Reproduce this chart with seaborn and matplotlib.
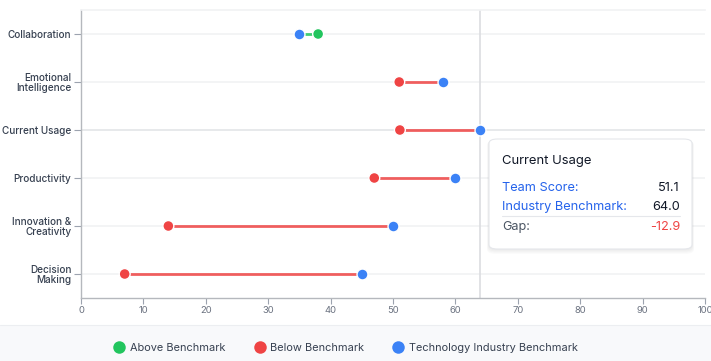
"""
Dumbbell chart: team skill scores vs. technology industry benchmark.
Saves out.png (711x361).
"""

import numpy as np
import pandas as pd
import matplotlib
matplotlib.use("Agg")
import matplotlib.pyplot as plt
from matplotlib.patches import FancyBboxPatch, Rectangle
from matplotlib.lines import Line2D
import seaborn as sns

CATEGORIES = ["Collaboration", "Emotional\nIntelligence", "Current Usage",
              "Productivity", "Innovation &\nCreativity", "Decision\nMaking"]
TEAM_SCORES = [38.0, 51.0, 51.1, 47.0, 14.0, 7.0]
BENCHMARKS = [35.0, 58.0, 64.0, 60.0, 50.0, 45.0]
HOVER_INDEX = 2

GREEN = "#22c55e"
RED = "#ef4444"
BLUE = "#3b82f6"
W, H = 711, 361


def setup():
    sns.set_theme(style="white")
    plt.rcParams["font.family"] = ["Inter", "DejaVu Sans"]


def main():
    setup()
    df = pd.DataFrame({"category": CATEGORIES, "team": TEAM_SCORES, "bench": BENCHMARKS})
    df["pos"] = np.arange(len(df))
    df["above"] = df["team"] >= df["bench"]
    df["color"] = np.where(df["above"], GREEN, RED)

    fig = plt.figure(figsize=(W / 100, H / 100), dpi=100)
    ax = fig.add_axes([81 / W, 1 - 298 / H, 624 / W, 288 / H])

    # light gridlines per category, the hovered one a bit darker
    for i in df["pos"]:
        ax.axhline(i, color="#e3e5e8" if i == HOVER_INDEX else "#f1f2f4", lw=1.2, zorder=0)

    # hover crosshair at the hovered benchmark
    ax.axvline(df.loc[HOVER_INDEX, "bench"], color="#dcdde0", lw=1.2, zorder=0.5)

    # connecting segments
    ax.hlines(df["pos"], df["team"], df["bench"], colors=df["color"], lw=2.0,
              alpha=0.85, zorder=1)

    sns.scatterplot(x=df["bench"], y=df["pos"], color=BLUE, s=62, edgecolor="white",
                    linewidth=1.0, zorder=3, ax=ax, legend=False)
    sns.scatterplot(x=df["team"], y=df["pos"], c=df["color"], s=62, edgecolor="white",
                    linewidth=1.0, zorder=3, ax=ax, legend=False)

    ax.set_xlim(0, 100)
    ax.set_ylim(len(df) - 0.5, -0.5)
    ax.set_xticks(range(0, 101, 10))
    ax.set_yticks(df["pos"])
    ax.set_yticklabels(df["category"], fontsize=7.2, color="#374151", linespacing=1.05,
                       fontweight="medium")
    ax.tick_params(axis="x", labelsize=6.8, colors="#9ca3af", labelcolor="#6b7280",
                   length=4, width=0.8, pad=2, bottom=True)
    ax.tick_params(axis="y", length=5, width=0.8, colors="#9ca3af", labelcolor="#374151",
                   pad=2, left=True)
    ax.set_xlabel("")
    ax.set_ylabel("")
    for side in ["left", "bottom"]:
        ax.spines[side].set_color("#b5b8bd")
        ax.spines[side].set_linewidth(1.0)
    ax.spines["right"].set_visible(False)
    ax.spines["top"].set_color("#f1f2f4")
    ax.spines["top"].set_linewidth(1.2)

    # legend band
    fig.patches.append(Rectangle((0, 0), 1, 36 / H, transform=fig.transFigure,
                                 facecolor="#f8f9fb", edgecolor="none", zorder=0))
    fig.add_artist(Line2D([0, 1], [36 / H, 36 / H], transform=fig.transFigure,
                          color="#eceef1", lw=0.8))
    handles = [Line2D([], [], marker="o", ls="", color=c, markersize=9, markeredgewidth=0)
               for c in (GREEN, RED, BLUE)]
    fig.legend(handles, ["Above Benchmark", "Below Benchmark", "Technology Industry Benchmark"],
               loc="center", bbox_to_anchor=(346 / W, 1 - 348 / H), ncol=3, frameon=False,
               fontsize=7.9, labelcolor="#374151", handletextpad=0.5, columnspacing=2.6,
               handlelength=1.0)

    # tooltip for the hovered category
    x0, y0, bw, bh = 489 / W, 1 - 249 / H, 203 / W, 110 / H
    for k in range(4, 0, -1):
        fig.patches.append(FancyBboxPatch(
            (x0 - k / W * 0.5, y0 - k / H * 1.2), bw + k / W, bh + k / H * 0.8,
            boxstyle="round,pad=0,rounding_size=0.012", transform=fig.transFigure,
            facecolor="black", edgecolor="none", alpha=0.018, zorder=5))
    fig.patches.append(FancyBboxPatch(
        (x0, y0), bw, bh, boxstyle="round,pad=0,rounding_size=0.012",
        transform=fig.transFigure, facecolor="white", edgecolor="#e5e7eb", lw=0.8, zorder=6))

    row = df.loc[HOVER_INDEX]
    gap = row["team"] - row["bench"]
    lx, rx = 502 / W, 680 / W
    fs = 9.2
    fig.text(lx, 1 - 161 / H, row["category"], fontsize=9.4, color="#111827",
             va="center", zorder=7)
    fig.text(lx, 1 - 188 / H, "Team Score:", fontsize=fs, color="#2563eb", va="center", zorder=7)
    fig.text(rx, 1 - 188 / H, f"{row['team']:.1f}", fontsize=fs, color="#111827",
             va="center", ha="right", zorder=7)
    fig.text(lx, 1 - 207 / H, "Industry Benchmark:", fontsize=fs, color="#2563eb",
             va="center", zorder=7)
    fig.text(rx, 1 - 207 / H, f"{row['bench']:.1f}", fontsize=fs, color="#111827",
             va="center", ha="right", zorder=7)
    fig.add_artist(Line2D([lx, rx], [1 - 216 / H, 1 - 216 / H], transform=fig.transFigure,
                          color="#e5e7eb", lw=0.8, zorder=7))
    fig.text(lx, 1 - 227 / H, "Gap:", fontsize=fs, color="#4b5563", va="center", zorder=7)
    fig.text(rx, 1 - 227 / H, f"{gap:.1f}", fontsize=fs,
             color=GREEN if gap >= 0 else RED, va="center", ha="right", zorder=7)

    fig.savefig("out.png", dpi=100)
    plt.close(fig)


if __name__ == "__main__":
    main()
